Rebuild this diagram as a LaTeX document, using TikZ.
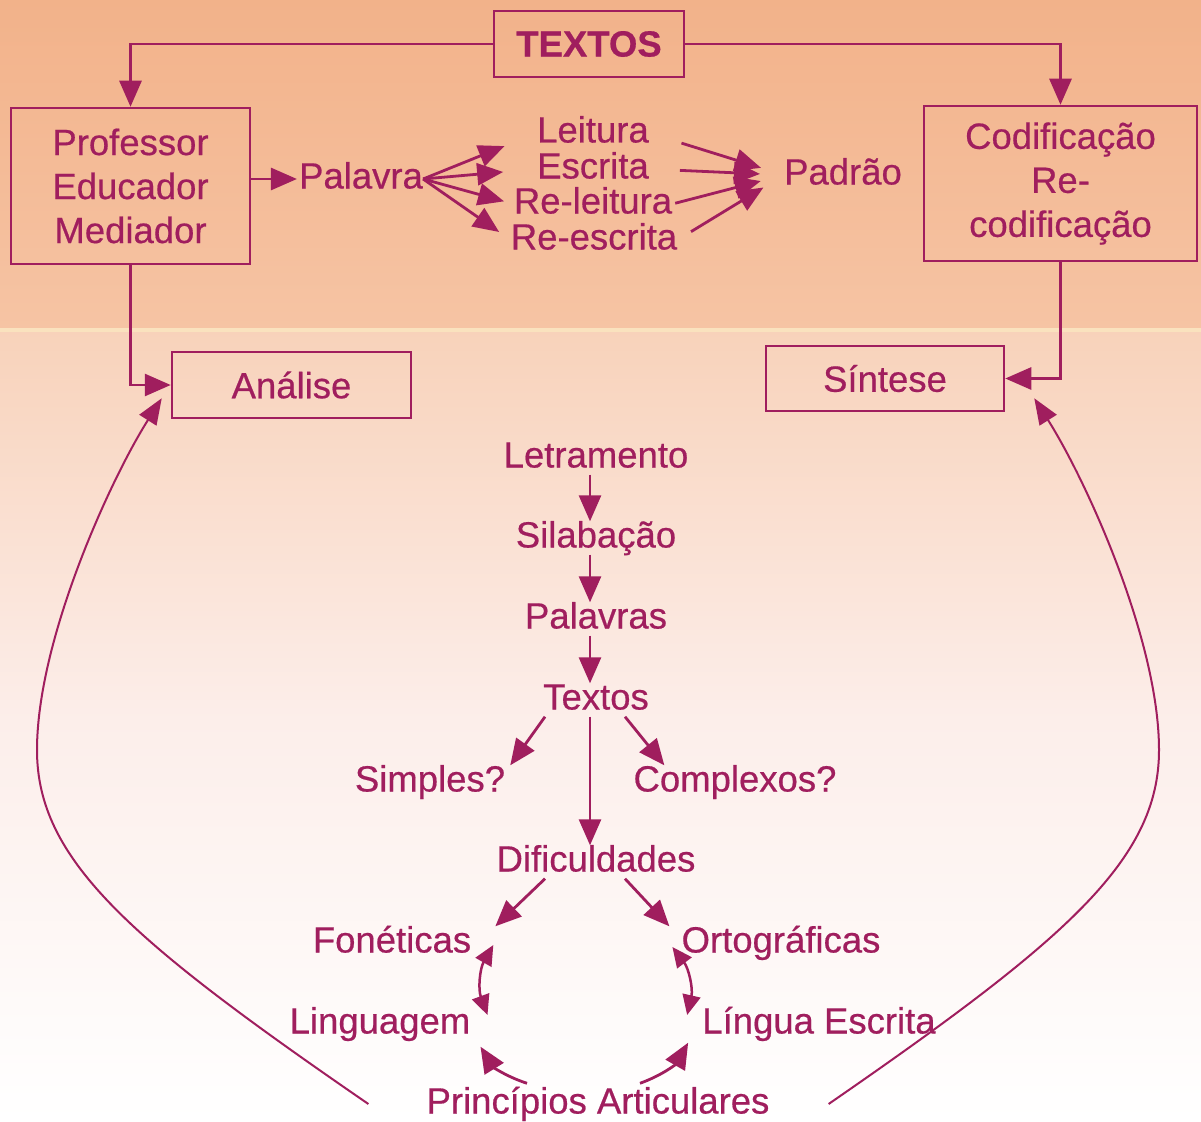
\documentclass[tikz,border=0pt]{standalone}
\usepackage{fontspec}
\setmainfont{Liberation Sans}[FakeBold=0.5]
\usetikzlibrary{arrows.meta}

\definecolor{roxo}{RGB}{160,30,94}
\definecolor{fundoA}{RGB}{242,178,138}
\definecolor{fundoB}{RGB}{246,196,164}
\definecolor{fundoC}{RGB}{248,210,186}
\definecolor{fundoD}{RGB}{252,238,234}
\definecolor{faixa}{RGB}{250,226,190}
\newcommand{\fonte}{\fontsize{36.5}{44}\selectfont}

\begin{document}
\begin{tikzpicture}[
    x=1pt,
    y=-1pt,
    every node/.style={text=roxo, font=\fonte},
    lbl/.style={inner sep=0pt, text height=26pt, text depth=7pt},
    caixa/.style={draw=roxo, line width=2.5pt, inner sep=0pt, align=center},
    seta/.style={draw=roxo, line width=2.8pt, -{Triangle[length=26pt,width=22pt]}},
    dupla/.style={draw=roxo, line width=2.5pt, {Triangle[length=20pt,width=18pt]}-{Triangle[length=20pt,width=18pt]}},
    curva/.style={draw=roxo, line width=2pt, -{Triangle[length=26pt,width=20pt]}},
]

% Background, orange at the top fading to white
\useasboundingbox (0,0) rectangle (1201,1121);
\shade[top color=fundoA, bottom color=fundoB] (0,0) rectangle (1201,330);
\shade[top color=fundoC, bottom color=fundoD] (0,330) rectangle (1201,720);
\shade[top color=fundoD, bottom color=white] (0,720) rectangle (1201,1121);
\fill[faixa] (0,328) rectangle (1201,332);

% Boxes
\node[caixa, minimum width=190pt, minimum height=66pt, font=\fonte\bfseries] (textos) at (589,44) {TEXTOS};
\node[caixa, minimum width=239pt, minimum height=156pt] (prof) at (130.5,186) {Professor\\Educador\\Mediador};
\node[caixa, minimum width=273pt, minimum height=155pt] (cod) at (1060.5,183.5) {Codificação\\Re-\\codificação};
\node[caixa, minimum width=239pt, minimum height=66pt] (analise) at (291.5,385) {Análise};
\node[caixa, minimum width=238pt, minimum height=65pt] (sintese) at (885,378.5) {Síntese};

% Top row words
\node[lbl] (palavra) at (361,179) {Palavra};
\node[lbl] (leitura) at (593,133) {Leitura};
\node[lbl] (escrita) at (593,169) {Escrita};
\node[lbl] (releitura) at (593,204) {Re-leitura};
\node[lbl] (reescrita) at (594,240) {Re-escrita};
\node[lbl] (padrao) at (843,175) {Padrão};

% Middle chain
\node[lbl] (letramento) at (596,458) {Letramento};
\node[lbl] (silabacao) at (596,538) {Silabação};
\node[lbl] (palavras) at (596,619) {Palavras};
\node[lbl] (textos2) at (596,700) {Textos};
\node[lbl] (simples) at (430,782) {Simples?};
\node[lbl] (complexos) at (735,782) {Complexos?};
\node[lbl] (dificuldades) at (596,862) {Dificuldades};
\node[lbl] (foneticas) at (392,943) {Fonéticas};
\node[lbl] (ortograficas) at (781,943) {Ortográficas};
\node[lbl] (linguagem) at (380,1024) {Linguagem};
\node[lbl] (lingua) at (819,1024) {Língua Escrita};
\node[lbl] (principios) at (598,1104) {Princípios Articulares};

% TEXTOS to both sides
\draw[seta] (textos.west) -| (prof.north);
\draw[seta] (textos.east) -| (cod.north);

% Professor -> Palavra -> four words -> Padrao
\draw[seta, shorten >=2pt] (prof.east |- palavra.west) -- (palavra.west);
\foreach \n/\s in {leitura/35, escrita/34, releitura/10, reescrita/14}
    \draw[seta, shorten >=\s pt] (palavra.east) -- (\n.west);
\foreach \n/\s in {leitura/34, escrita/31, releitura/3, reescrita/16}
    \draw[seta, shorten >=24pt, shorten <=\s pt] (\n.east) -- (padrao.west);

% Down to Analise and Sintese
\draw[seta] (prof.south) |- (analise.west);
\draw[seta] (cod.south) |- (sintese.east);

% Chain
\foreach \a/\b in {letramento/silabacao, silabacao/palavras, palavras/textos2, textos2/dificuldades}
    \draw[seta] ([xshift=-6pt]\a.south) -- ([xshift=-6pt]\b.north);
\draw[seta] ([xshift=-51pt]textos2.south) -- ([xshift=5pt]simples.north east);
\draw[seta] ([xshift=29pt]textos2.south) -- ([xshift=31pt]complexos.north west);
\draw[seta] ([xshift=-51pt]dificuldades.south) -- ([xshift=24pt]foneticas.north east);
\draw[seta] ([xshift=29pt]dificuldades.south) -- ([xshift=-12pt]ortograficas.north west);

% Double arrows
\draw[dupla] ([shift={(22pt,-2pt)}]foneticas.east) to[bend right=25] ([shift={(17pt,9pt)}]linguagem.east);
\draw[dupla] ([shift={(-9pt,-4pt)}]ortograficas.west) to[bend left=25] ([shift={(-15pt,9pt)}]lingua.west);

% Principios up to both
\draw[seta] ([shift={(-71pt,4pt)}]principios.north) to[bend left=20] ([shift={(10pt,-6pt)}]linguagem.south east);
\draw[seta] ([shift={(42pt,4pt)}]principios.north) to[bend right=20] ([shift={(-14pt,-2pt)}]lingua.south west);

% Large curves back to Analise and Sintese
\draw[curva] ([xshift=-58pt]principios.west) .. controls (130,940) and (37,860) .. (37,750)
    .. controls (37,640) and (110,480) .. ([shift={(-9pt,21pt)}]analise.south west);
\draw[curva] ([xshift=59pt]principios.east) .. controls (1066,940) and (1159,860) .. (1159,750)
    .. controls (1159,640) and (1086,480) .. ([shift={(29pt,14pt)}]sintese.south east);

\end{tikzpicture}
\end{document}
